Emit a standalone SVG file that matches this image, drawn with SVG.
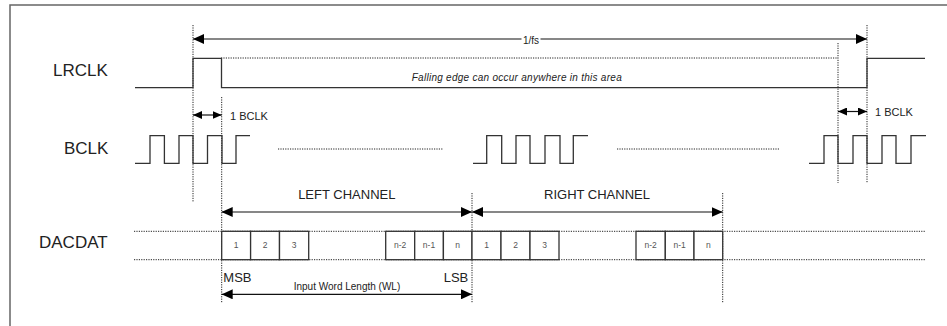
<svg xmlns="http://www.w3.org/2000/svg" width="947" height="326" viewBox="0 0 947 326">
<style>
.frame{fill:none;stroke:#666;stroke-width:1.5}
.wave{fill:none;stroke:#333;stroke-width:1.3}
.dot{fill:none;stroke:#222;stroke-width:1;stroke-dasharray:1.2,1.2}
.box{fill:#fff;stroke:#333;stroke-width:1.3}
.arr{fill:none;stroke:#111;stroke-width:1.2}
.lbl{font-family:"Liberation Sans",Arial,sans-serif;font-size:17px;fill:#222}
.t13{font-family:"Liberation Sans",Arial,sans-serif;font-size:13px;fill:#222}
.t11{font-family:"Liberation Sans",Arial,sans-serif;font-size:11px;fill:#222}
.t10{font-family:"Liberation Sans",Arial,sans-serif;font-size:10px;fill:#222}
.bit{font-family:"Liberation Sans",Arial,sans-serif;font-size:8.5px;fill:#555;text-anchor:middle}
</style>
<defs>
<marker id="ah" viewBox="0 0 11 10" refX="11" refY="5" markerWidth="11" markerHeight="10" orient="auto-start-reverse" markerUnits="userSpaceOnUse"><path d="M0,0 L11,5 L0,10 z" fill="#000"/></marker>
<marker id="as" viewBox="0 0 9 8" refX="9" refY="4" markerWidth="9" markerHeight="8" orient="auto-start-reverse" markerUnits="userSpaceOnUse"><path d="M0,0 L9,4 L0,8 z" fill="#000"/></marker>
</defs>
<rect width="947" height="326" fill="#fff"/>
<path class="frame" d="M10,326 V5 H947"/>

<g id="labels">
<text class="lbl" x="53" y="76">LRCLK</text>
<text class="lbl" x="64" y="154">BCLK</text>
<text class="lbl" x="39" y="248">DACDAT</text>
</g>

<g id="guides">
<path class="dot" d="M193,25 V202 M221.7,97 V303 M472,193 V303 M722.7,193 V303 M838,43 V183 M867,25 V183"/>
<path class="dot" d="M221,58 H838"/>
<path class="dot" d="M278,149 H443 M617,149 H779"/>
<path class="dot" d="M134,231.3 H925 M134,259.7 H925"/>
</g>

<g id="lrclk">
<path class="wave" d="M135,87.7 H193 V58.3 H221.5 V87.7 H867 V58.3 H925"/>
<text x="411.7" y="81" font-family="Liberation Sans, Arial, sans-serif" font-size="10" font-style="italic" fill="#222" textLength="210">Falling edge can occur anywhere in this area</text>
</g>

<g id="bclk">
<path class="wave" d="M135,163.3 H150 V135.7 H164.4 V163.3 H179 V135.7 H193 V163.3 H207.5 V135.7 H222 V163.3 H236 V135.7 H250"/>
<path class="wave" d="M473,163.3 H486.7 V135.7 H501.7 V163.3 H516 V135.7 H530 V163.3 H545 V135.7 H560 V163.3 H573.3 V135.7 H588"/>
<path class="wave" d="M809,163.3 H824 V135.7 H838 V163.3 H853 V135.7 H867 V163.3 H882 V135.7 H896 V163.3 H911 V135.7 H926"/>
</g>

<g id="dacdat-left">
<rect class="box" x="221.7" y="231.3" width="28.9" height="28.4"/>
<rect class="box" x="250.6" y="231.3" width="28.9" height="28.4"/>
<rect class="box" x="279.5" y="231.3" width="29.2" height="28.4"/>
<rect class="box" x="385.7" y="231.3" width="29" height="28.4"/>
<rect class="box" x="414.7" y="231.3" width="28.7" height="28.4"/>
<rect class="box" x="443.4" y="231.3" width="28.6" height="28.4"/>
<text class="bit" x="236.1" y="248">1</text>
<text class="bit" x="265" y="248">2</text>
<text class="bit" x="294" y="248">3</text>
<text class="bit" x="400.2" y="248">n-2</text>
<text class="bit" x="429" y="248">n-1</text>
<text class="bit" x="457.7" y="248">n</text>
</g>

<g id="dacdat-right">
<rect class="box" x="472" y="231.3" width="29" height="28.4"/>
<rect class="box" x="501" y="231.3" width="29" height="28.4"/>
<rect class="box" x="530" y="231.3" width="29" height="28.4"/>
<rect class="box" x="636" y="231.3" width="29.3" height="28.4"/>
<rect class="box" x="665.3" y="231.3" width="28.7" height="28.4"/>
<rect class="box" x="694" y="231.3" width="28.7" height="28.4"/>
<text class="bit" x="486.5" y="248">1</text>
<text class="bit" x="515.5" y="248">2</text>
<text class="bit" x="544.5" y="248">3</text>
<text class="bit" x="650.6" y="248">n-2</text>
<text class="bit" x="679.6" y="248">n-1</text>
<text class="bit" x="708.3" y="248">n</text>
</g>

<g id="connectors">
<path class="arr" d="M193,39 H521.5 M540.5,39 H867" marker-start="url(#ah)" marker-end="url(#ah)"/>
<text class="t10" x="531" y="43.5" text-anchor="middle">1/fs</text>
<path class="arr" d="M193,115 H221.7" marker-start="url(#as)" marker-end="url(#as)"/>
<text class="t11" x="230" y="119.5">1 BCLK</text>
<path class="arr" d="M838,111.5 H867" marker-start="url(#as)" marker-end="url(#as)"/>
<text class="t11" x="875" y="116">1 BCLK</text>
<path class="arr" d="M221.7,212 H472" marker-start="url(#ah)" marker-end="url(#ah)"/>
<text class="t13" x="346.8" y="199.3" text-anchor="middle">LEFT CHANNEL</text>
<path class="arr" d="M472,212 H722.7" marker-start="url(#ah)" marker-end="url(#ah)"/>
<text class="t13" x="597" y="199.3" text-anchor="middle">RIGHT CHANNEL</text>
<path class="arr" d="M221.7,294.3 H472" marker-start="url(#ah)" marker-end="url(#ah)"/>
<text class="t13" x="223.3" y="281.7">MSB</text>
<text class="t13" x="468.3" y="281.7" text-anchor="end">LSB</text>
<text class="t10" x="347" y="290" text-anchor="middle">Input Word Length (WL)</text>
</g>
</svg>
